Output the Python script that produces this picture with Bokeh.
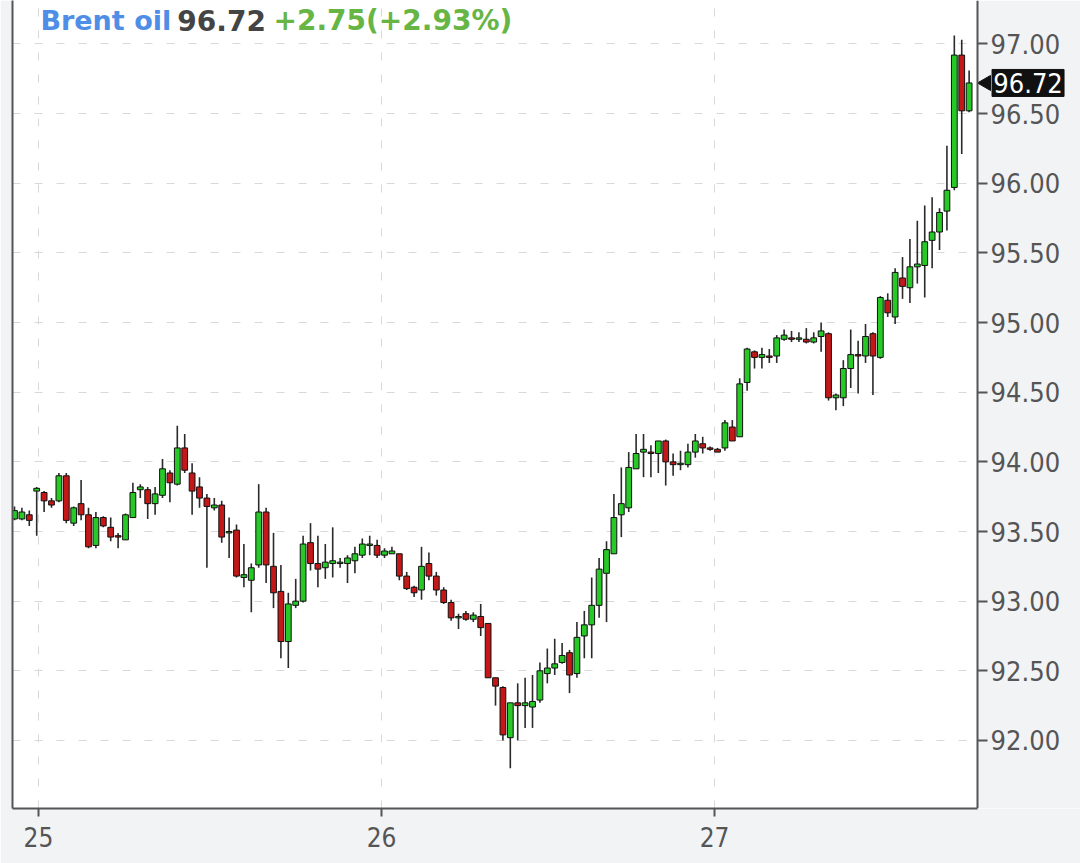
from math import pi
from bokeh.plotting import figure
from bokeh.models import (FixedTicker, LinearAxis, Label, Range1d, ColumnDataSource,
                          NumeralTickFormatter, Grid)
from bokeh.core.properties import value
from bokeh.embed import file_html
from bokeh.resources import INLINE

# ---- data ----
opens = [93.59, 93.59, 93.62, 93.79, 93.78, 93.72, 93.72, 93.90, 93.56, 93.70,
         93.62, 93.40, 93.60, 93.53, 93.47, 93.44, 93.60, 93.80, 93.80, 93.70,
         93.76, 93.92, 93.84, 94.10, 93.92, 93.82, 93.74, 93.67, 93.69, 93.49,
         93.51, 93.17, 93.15, 93.26, 93.64, 93.25, 93.07, 92.71, 92.97, 93.00,
         93.42, 93.27, 93.24, 93.27, 93.27, 93.27, 93.29, 93.33, 93.40, 93.40,
         93.33, 93.34, 93.34, 93.18, 93.10, 93.08, 93.27, 93.18, 93.08, 92.99,
         92.88, 92.91, 92.87, 92.89, 92.84, 92.45, 92.38, 92.02, 92.27, 92.25,
         92.24, 92.29, 92.48, 92.52, 92.56, 92.63, 92.48, 92.75, 92.83, 92.97,
         93.20, 93.34, 93.62, 93.67, 93.95, 94.07, 94.07, 94.06, 94.15, 94.00,
         93.98, 93.98, 94.07, 94.13, 94.10, 94.09, 94.10, 94.25, 94.18, 94.57,
         94.79, 94.75, 94.76, 94.76, 94.88, 94.89, 94.88, 94.88, 94.86, 94.90,
         94.92, 94.46, 94.46, 94.67, 94.77, 94.76, 94.92, 94.75, 95.16, 95.04,
         95.32, 95.25, 95.40, 95.41, 95.59, 95.65, 95.80, 95.97, 96.92, 96.52]
highs = [93.68, 93.67, 93.65, 93.82, 93.79, 93.74, 93.92, 93.92, 93.68, 93.87,
         93.67, 93.64, 93.61, 93.60, 93.49, 93.63, 93.85, 93.84, 93.82, 93.82,
         94.02, 93.94, 94.26, 94.20, 93.99, 93.89, 93.77, 93.74, 93.72, 93.60,
         93.55, 93.41, 93.27, 93.84, 93.67, 93.49, 93.26, 93.06, 93.16, 93.47,
         93.56, 93.47, 93.41, 93.53, 93.31, 93.33, 93.39, 93.45, 93.47, 93.44,
         93.38, 93.39, 93.34, 93.21, 93.11, 93.39, 93.35, 93.21, 93.10, 93.01,
         92.91, 92.93, 92.92, 92.98, 92.84, 92.45, 92.39, 92.27, 92.41, 92.45,
         92.47, 92.56, 92.66, 92.73, 92.70, 92.65, 92.85, 92.93, 93.17, 93.31,
         93.43, 93.77, 93.96, 94.07, 94.20, 94.20, 94.12, 94.15, 94.16, 94.06,
         94.08, 94.13, 94.20, 94.18, 94.11, 94.10, 94.30, 94.30, 94.60, 94.82,
         94.80, 94.82, 94.81, 94.91, 94.95, 94.94, 94.93, 94.96, 94.93, 95.00,
         94.93, 94.49, 94.73, 94.95, 94.87, 94.99, 94.93, 95.19, 95.21, 95.39,
         95.47, 95.60, 95.73, 95.84, 95.90, 95.82, 96.27, 97.06, 97.03, 96.81]
lows = [93.58, 93.58, 93.54, 93.47, 93.64, 93.67, 93.71, 93.56, 93.54, 93.58,
        93.38, 93.38, 93.53, 93.43, 93.38, 93.44, 93.60, 93.74, 93.59, 93.62,
        93.74, 93.71, 93.83, 93.92, 93.62, 93.67, 93.24, 93.65, 93.42, 93.31,
        93.17, 93.10, 92.92, 93.24, 93.13, 92.95, 92.59, 92.52, 92.95, 92.99,
        93.22, 93.10, 93.16, 93.17, 93.24, 93.13, 93.20, 93.31, 93.33, 93.31,
        93.31, 93.34, 93.15, 93.08, 93.03, 93.01, 93.15, 93.04, 92.98, 92.86,
        92.80, 92.86, 92.85, 92.75, 92.45, 92.25, 92.00, 91.80, 92.00, 92.09,
        92.09, 92.27, 92.41, 92.47, 92.55, 92.34, 92.45, 92.59, 92.59, 92.88,
        92.85, 93.34, 93.46, 93.64, 93.95, 93.89, 93.89, 93.92, 93.83, 93.90,
        93.94, 93.96, 94.03, 94.06, 94.08, 94.07, 94.08, 94.15, 94.18, 94.51,
        94.67, 94.67, 94.71, 94.71, 94.87, 94.86, 94.86, 94.85, 94.85, 94.79,
        94.44, 94.37, 94.40, 94.53, 94.49, 94.71, 94.48, 94.74, 95.04, 94.99,
        95.17, 95.14, 95.28, 95.18, 95.39, 95.52, 95.66, 95.95, 96.21, 96.51]
closes = [93.65, 93.64, 93.58, 93.81, 93.72, 93.69, 93.90, 93.58, 93.67, 93.62,
          93.39, 93.60, 93.54, 93.46, 93.46, 93.62, 93.78, 93.82, 93.70, 93.77,
          93.95, 93.85, 94.10, 93.94, 93.79, 93.74, 93.68, 93.69, 93.46, 93.50,
          93.18, 93.19, 93.24, 93.64, 93.26, 93.06, 92.71, 92.98, 93.00, 93.41,
          93.27, 93.23, 93.28, 93.29, 93.28, 93.31, 93.34, 93.41, 93.41, 93.33,
          93.36, 93.36, 93.18, 93.09, 93.06, 93.25, 93.18, 93.08, 92.99, 92.88,
          92.89, 92.87, 92.90, 92.81, 92.45, 92.39, 92.04, 92.27, 92.25, 92.27,
          92.28, 92.50, 92.52, 92.55, 92.61, 92.47, 92.74, 92.83, 92.97, 93.23,
          93.37, 93.60, 93.70, 93.96, 94.06, 94.09, 94.06, 94.15, 94.00, 93.98,
          93.99, 94.07, 94.15, 94.10, 94.09, 94.07, 94.28, 94.15, 94.56, 94.81,
          94.75, 94.77, 94.75, 94.89, 94.91, 94.88, 94.89, 94.86, 94.89, 94.94,
          94.46, 94.48, 94.67, 94.77, 94.76, 94.90, 94.76, 95.18, 95.07, 95.36,
          95.26, 95.40, 95.42, 95.58, 95.65, 95.79, 95.95, 96.92, 96.52, 96.72]

day_labels = ["25", "26", "27"]
day_pos = [3.24, 49.6, 94.6]          # candle index where each day starts
price_ticks = [92.0, 92.5, 93.0, 93.5, 94.0, 94.5, 95.0, 95.5, 96.0, 96.5, 97.0]

instrument = "Brent oil"
change = 2.75
change_pct = 2.93

# ---- layout constants (candle-index units / price units) ----
X_START, X_END = -0.27, 144.05
AXIS_X = 130.14          # where the price axis sits
TAG_X = 136.96           # centre of last-price tag
ARROW_X = 131.3
Y_TOP = 97.312
Y_BOTTOM = 91.5115
HEADER_Y = 97.165

GREEN = "#27c927"
RED = "#c41818"
AX = "#555555"
FONT = "DejaVu Sans Condensed, DejaVu Sans"
PANEL = "#f2f3f5"
GRID = "#d9d9d9"

idx = list(range(len(closes)))
src = ColumnDataSource(dict(
    x=idx, high=highs, low=lows,
    top=[max(o, c) for o, c in zip(opens, closes)],
    bottom=[min(o, c) for o, c in zip(opens, closes)],
    color=[GREEN if c >= o else RED for o, c in zip(opens, closes)],
))

p = figure(width=1080, height=863, output_backend="svg", toolbar_location=None,
           x_range=Range1d(X_START, X_END), y_range=Range1d(Y_BOTTOM, Y_TOP),
           y_axis_location=None,
           min_border_left=12, min_border_right=0, min_border_top=0, min_border_bottom=55)
p.background_fill_color = "white"
p.border_fill_color = PANEL
p.outline_line_color = None

# drop the default horizontal grid (it belongs to an unattached axis)
p.center = [r for r in p.center if not (isinstance(r, Grid) and r.dimension == 1)]

yticker = FixedTicker(ticks=price_ticks)

# price axis, fixed at the right edge of the candle area
ya = LinearAxis(ticker=yticker, fixed_location=AXIS_X,
                formatter=NumeralTickFormatter(format="0.00"))
ya.axis_line_color = AX
ya.axis_line_width = 2
ya.major_tick_line_color = AX
ya.major_tick_line_width = 2
ya.major_tick_out = 10
ya.major_tick_in = 0
ya.minor_tick_line_color = None
ya.major_label_standoff = 3
ya.major_label_text_font = FONT
ya.major_label_text_font_size = "27px"
ya.major_label_text_color = "#555555"
p.add_layout(ya, "right")

# left frame border as an empty axis
la = LinearAxis(ticker=FixedTicker(ticks=[]), axis_line_color=AX, axis_line_width=2,
                major_tick_out=0, major_tick_in=0, minor_tick_out=0, minor_tick_in=0,
                major_label_text_font_size="0px", major_label_standoff=0)
p.add_layout(la, "left")

# bottom day axis
xa = p.xaxis[0]
xa.ticker = FixedTicker(ticks=day_pos)
xa.major_label_overrides = {pos: lab for pos, lab in zip(day_pos, day_labels)}
xa.bounds = (X_START, AXIS_X)
xa.axis_line_color = AX
xa.axis_line_width = 2
xa.major_tick_line_color = AX
xa.major_tick_line_width = 2
xa.major_tick_out = 8
xa.major_tick_in = 0
xa.minor_tick_line_color = None
xa.major_label_standoff = 10
xa.major_label_text_font = FONT
xa.major_label_text_font_size = "26px"
xa.major_label_text_color = "#555555"

p.xgrid[0].grid_line_color = GRID
p.xgrid[0].grid_line_dash = "8 14"
p.xgrid[0].grid_line_width = 1
ygrid = Grid(dimension=1, ticker=yticker)
ygrid.grid_line_color = GRID
ygrid.grid_line_dash = "8 14"
ygrid.grid_line_width = 1
p.add_layout(ygrid)

# grey panel right of the price axis (drawn over the grid lines there)
p.quad(left=[AXIS_X], right=[X_END], bottom=[Y_BOTTOM], top=[Y_TOP],
       fill_color=PANEL, line_color=None)

# candles
p.segment(x0="x", y0="high", x1="x", y1="low", source=src, line_color="#2a2a2a", line_width=1.6)
p.vbar(x="x", width=0.78, top="top", bottom="bottom", source=src,
       fill_color="color", line_color="#111111", line_width=1)

# header
last = closes[-1]
hfont = "DejaVu Sans"
p.add_layout(Label(x=3.5, y=HEADER_Y, text=instrument, text_font=hfont, text_font_style="bold",
                   text_font_size="27px", text_color="#4f8ee6", text_baseline="alphabetic"))
p.add_layout(Label(x=22.0, y=HEADER_Y, text=f"{last:.2f}", text_font=hfont, text_font_style="bold",
                   text_font_size="28px", text_color="#444444", text_baseline="alphabetic"))
p.add_layout(Label(x=35.0, y=HEADER_Y, text=f"+{change:.2f}(+{change_pct:.2f}%)", text_font=hfont,
                   text_font_style="bold", text_font_size="28px", text_color="#66b545",
                   text_baseline="alphabetic"))

# last price tag
p.rect(x=[TAG_X], y=[last], width=72, height=27, width_units="screen", height_units="screen",
       fill_color="#111111", line_color="#111111")
p.scatter(x=[ARROW_X], y=[last], marker="triangle", size=15, angle=pi / 2,
          fill_color="#111111", line_color="#111111")
p.text(x=[TAG_X], y=[last], text=[f"{last:.2f}"], text_align="center", text_baseline="middle",
       text_color="white", text_font=value("DejaVu Sans Condensed"), text_font_size="27px")

open("out.html", "w").write(file_html(p, INLINE))
